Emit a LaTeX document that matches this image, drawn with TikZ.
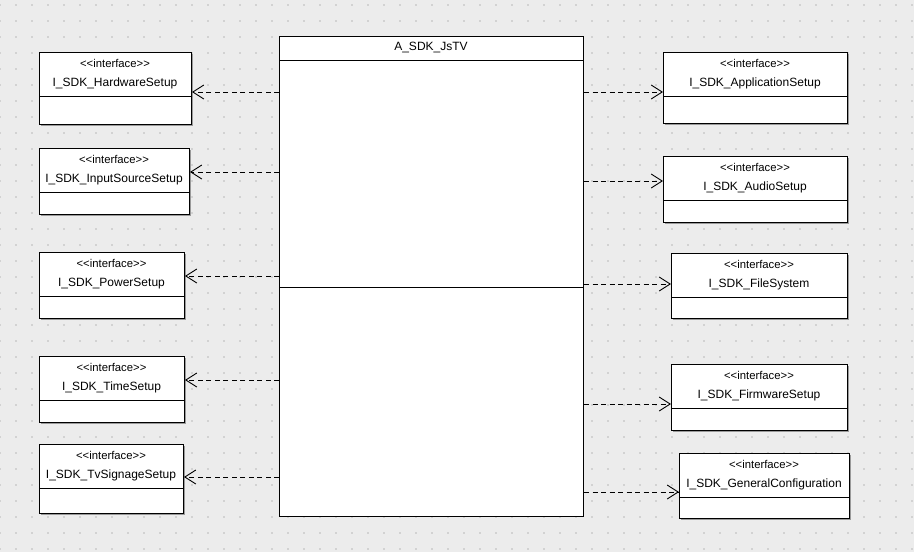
\documentclass[tikz,border=0pt]{standalone}
\usepackage{fontspec}
\setmainfont{Liberation Sans}
\usetikzlibrary{arrows.meta}
\definecolor{bgc}{HTML}{ECECEC}
\definecolor{dotc}{HTML}{D2D2D2}
\definecolor{shadowc}{HTML}{9A9A9A}
\tikzset{
  boxline/.style={draw=black, line width=1pt},
  ibox/.style={boxline, fill=white, rectangle, inner sep=0pt, anchor=north west},
  stereo/.style={inner sep=0pt, anchor=base, font=\fontsize{11.3}{13}\selectfont},
  iname/.style={inner sep=0pt, anchor=base, font=\fontsize{12}{14}\selectfont},
  dep/.style={line width=0.9pt, dash pattern=on 5pt off 3.5pt, -{Straight Barb[length=11pt,width=14pt,line width=0.9pt]}}
}
% \ifacebox{name}{x1}{y1}{x2}{y2}{label}
\newcommand{\ifacebox}[6]{%
  \fill[shadowc] (#2+2,#3+2) rectangle (#4+2,#5+2);
  \node[ibox, minimum width=#4-#2, minimum height=#5-#3] (#1) at (#2,#3) {};
  \draw[boxline] (#2,#3+44) -- (#4,#3+44);
  \node[stereo] (#1s) at ({(#2+#4)/2},#3+15) {<{}<interface>{}>};
  \node[iname] (#1n) at ({(#2+#4)/2},#3+34.5) {#6};
}
\begin{document}
\begin{tikzpicture}[x=1pt,y=-1pt]
\useasboundingbox (0,0) rectangle (914,552);
\fill[bgc] (0,0) rectangle (914,552);
\foreach \i in {0,...,57}{
  \foreach \j in {0,...,34}{
    \fill[dotc] ({16*\i-1},{5+16*\j-1}) rectangle ++(2,2);
  }
}
% main class
\node[ibox, minimum width=304, minimum height=480] (main) at (279,36) {};
\draw[boxline] (main.west |- 0,60) -- (main.east |- 0,60);
\draw[boxline] (main.west |- 0,287) -- (main.east |- 0,287);
\node[iname] (title) at (431,50) {A\_SDK\_JsTV};
% left interfaces
\ifacebox{hw}{39}{52}{191}{124}{I\_SDK\_HardwareSetup}
\ifacebox{ins}{39}{148}{189}{214}{I\_SDK\_InputSourceSetup}
\ifacebox{pw}{39}{252}{184}{318}{I\_SDK\_PowerSetup}
\ifacebox{tm}{39}{356}{184}{422}{I\_SDK\_TimeSetup}
\ifacebox{tv}{39}{444}{183}{513}{I\_SDK\_TvSignageSetup}
% right interfaces
\ifacebox{app}{663}{52}{847}{123}{I\_SDK\_ApplicationSetup}
\ifacebox{aud}{663}{156}{847}{222}{I\_SDK\_AudioSetup}
\ifacebox{fs}{671}{253}{847}{318}{I\_SDK\_FileSystem}
\ifacebox{fw}{671}{364}{847}{430}{I\_SDK\_FirmwareSetup}
\ifacebox{gc}{679}{453}{849}{518}{I\_SDK\_GeneralConfiguration}
% dependencies
\draw[dep] (main.west |- 0,92) -- (hw.east |- 0,92);
\draw[dep] (main.west |- 0,172) -- (ins.east |- 0,172);
\draw[dep] (main.west |- 0,276) -- (pw.east |- 0,276);
\draw[dep] (main.west |- 0,380) -- (tm.east |- 0,380);
\draw[dep] (main.west |- 0,477) -- (tv.east |- 0,477);
\draw[dep] (main.east |- 0,92) -- (app.west |- 0,92);
\draw[dep] (main.east |- 0,181) -- (aud.west |- 0,181);
\draw[dep] (main.east |- 0,284) -- (fs.west |- 0,284);
\draw[dep] (main.east |- 0,404) -- (fw.west |- 0,404);
\draw[dep] (main.east |- 0,492) -- (gc.west |- 0,492);
\end{tikzpicture}
\end{document}
